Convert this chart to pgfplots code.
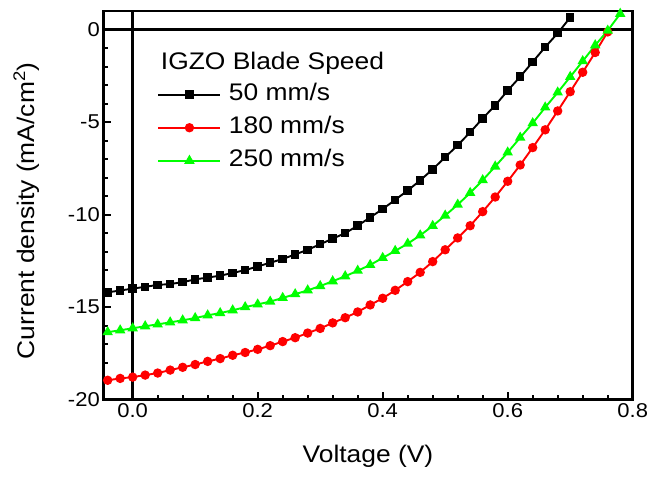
\documentclass[border=0pt]{standalone}
\usepackage{fontspec}
\setmainfont{Liberation Sans}[FakeStretch=1.1]
\usepackage{pgfplots}
\pgfplotsset{compat=1.18}
\definecolor{myred}{RGB}{255,0,0}
\definecolor{mygreen}{RGB}{0,255,0}
\begin{document}
\begin{tikzpicture}
\path[use as bounding box] (-103.3pt,-76.5pt) rectangle (543.7pt,399.7pt);
\begin{axis}[
  scale only axis,
  width=529.4pt, height=388.7pt,
  xmin=-0.047, xmax=0.8,
  ymin=-20, ymax=1,
  xtick={0,0.2,0.4,0.6,0.8},
  ytick={-20,-15,-10,-5,0},
  minor x tick num=4,
  minor y tick num=4,
  xtick pos=left, ytick pos=left,
  tick align=inside,
  major tick length=8pt, minor tick length=5pt,
  every tick/.style={black, line width=2pt},
  axis line style={line width=2.6pt},
  /pgf/number format/assume math mode=true,
  ticklabel style={font=\fontsize{20}{24}\selectfont},
  xticklabel style={/pgf/number format/.cd, fixed, fixed zerofill, precision=1},
  yticklabel style={/pgf/number format/.cd, fixed, precision=0},
  xlabel={Voltage (V)},
  ylabel={Current density (mA/cm\textsuperscript{2})},
  label style={font=\fontsize{24}{28}\selectfont},
  xlabel style={at={(axis description cs:0.5,-0.1466)}, anchor=center},
  ylabel style={at={(axis description cs:-0.1455,0.486)}, anchor=center, rotate=0},
  legend cell align=left,
  legend style={draw=none, fill=none, at={(rel axis cs:0.102,0.814)}, anchor=north west,
    inner sep=0pt, column sep=7.5pt, row sep=10.5pt,
    nodes={inner sep=0pt, text height=17.5pt, text depth=5pt},
    font=\fontsize{24}{28}\selectfont},
  legend image code/.code={\draw[mark repeat=2,mark phase=2,#1] plot coordinates {(0pt,0pt) (31pt,0pt) (62pt,0pt)};},
]
\addplot[black, line width=2.4pt, forget plot] coordinates {(-0.047,0) (0.8,0)};
\addplot[black, line width=2.4pt, forget plot] coordinates {(0,-20) (0,1)};

\addplot[black, line width=1.9pt, mark=square*, mark size=3.3pt] coordinates {
(-0.04,-14.2) (-0.02,-14.1) (0.00,-14.0) (0.02,-13.9) (0.04,-13.8) (0.06,-13.75)
(0.08,-13.65) (0.10,-13.5) (0.12,-13.4) (0.14,-13.3) (0.16,-13.15) (0.18,-13.0)
(0.20,-12.8) (0.22,-12.6) (0.24,-12.4) (0.26,-12.15) (0.28,-11.9) (0.30,-11.6)
(0.32,-11.3) (0.34,-11.0) (0.36,-10.6) (0.38,-10.15) (0.40,-9.7) (0.42,-9.2)
(0.44,-8.7) (0.46,-8.15) (0.48,-7.55) (0.50,-6.9) (0.52,-6.25) (0.54,-5.55)
(0.56,-4.8) (0.58,-4.1) (0.60,-3.3) (0.62,-2.55) (0.64,-1.75) (0.66,-0.95)
(0.68,-0.2) (0.70,0.65)};
\addlegendentry{50 mm/s}

\addplot[myred, line width=1.9pt, mark=*, mark size=3.7pt] coordinates {
(-0.04,-18.95) (-0.02,-18.85) (0.00,-18.78) (0.02,-18.67) (0.04,-18.56) (0.06,-18.4)
(0.08,-18.25) (0.10,-18.1) (0.12,-17.93) (0.14,-17.78) (0.16,-17.6) (0.18,-17.45)
(0.20,-17.28) (0.22,-17.08) (0.24,-16.86) (0.26,-16.65) (0.28,-16.4) (0.30,-16.15)
(0.32,-15.85) (0.34,-15.57) (0.36,-15.26) (0.38,-14.88) (0.40,-14.52) (0.42,-14.09)
(0.44,-13.62) (0.46,-13.12) (0.48,-12.54) (0.50,-11.9) (0.52,-11.26) (0.54,-10.6)
(0.56,-9.84) (0.58,-9.05) (0.60,-8.2) (0.62,-7.32) (0.64,-6.38) (0.66,-5.42)
(0.68,-4.4) (0.70,-3.36) (0.72,-2.31) (0.74,-1.24) (0.76,-0.13)};
\addlegendentry{180 mm/s}

\addplot[mygreen, line width=1.9pt, mark=triangle*, mark size=4.2pt] coordinates {
(-0.04,-16.35) (-0.02,-16.25) (0.00,-16.14) (0.02,-16.03) (0.04,-15.93) (0.06,-15.82)
(0.08,-15.71) (0.10,-15.59) (0.12,-15.44) (0.14,-15.32) (0.16,-15.17) (0.18,-15.0)
(0.20,-14.85) (0.22,-14.7) (0.24,-14.5) (0.26,-14.3) (0.28,-14.09) (0.30,-13.86)
(0.32,-13.6) (0.34,-13.33) (0.36,-13.03) (0.38,-12.72) (0.40,-12.34) (0.42,-11.96)
(0.44,-11.57) (0.46,-11.12) (0.48,-10.61) (0.50,-10.05) (0.52,-9.46) (0.54,-8.83)
(0.56,-8.14) (0.58,-7.4) (0.60,-6.64) (0.62,-5.84) (0.64,-5.06) (0.66,-4.21)
(0.68,-3.4) (0.70,-2.56) (0.72,-1.71) (0.74,-0.85) (0.76,-0.06) (0.78,0.85)};
\addlegendentry{250 mm/s}

\node[anchor=base west, font=\fontsize{24}{28}\selectfont, inner sep=0pt] at (rel axis cs:0.1085,0.849) {IGZO Blade Speed};
\end{axis}
\end{tikzpicture}
\end{document}
